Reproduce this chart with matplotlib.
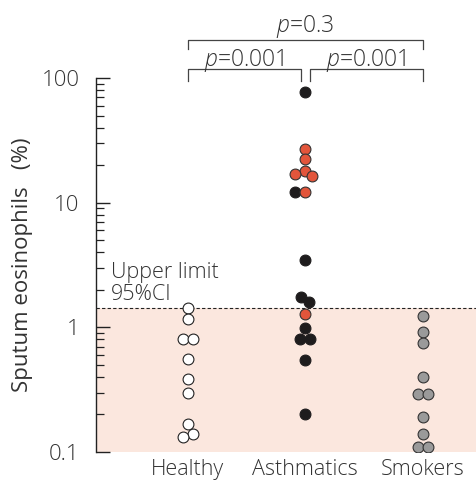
import numpy as np
import matplotlib.pyplot as plt
from matplotlib.ticker import LogLocator, NullFormatter, FixedLocator

plt.rcParams['font.family'] = ['Open Sans', 'DejaVu Sans']
plt.rcParams['font.weight'] = 'light'
plt.rcParams['mathtext.fontset'] = 'custom'
plt.rcParams['mathtext.it'] = 'Open Sans:italic:light'
plt.rcParams['mathtext.rm'] = 'Open Sans:light'

groups = ['Healthy', 'Asthmatics', 'Smokers']

# sputum eosinophils (%) per subject, with horizontal jitter within a group
healthy_vals = [1.44, 1.17, 0.81, 0.81, 0.555, 0.384, 0.296, 0.168, 0.140, 0.131]
healthy_jit = [0, 0, -0.042, 0.042, 0, 0, 0, 0, 0.042, -0.042]

asth_black_vals = [76.8, 12.2, 3.47, 1.76, 1.59, 0.995, 0.81, 0.81, 0.544, 0.201]
asth_black_jit = [0, -0.09, 0, -0.034, 0.03, 0, -0.048, 0.036, 0, 0]
asth_red_vals = [26.8, 22.3, 18.1, 17.1, 16.3, 12.2, 1.28]
asth_red_jit = [0, 0, 0, -0.084, 0.059, 0, 0]

smoker_vals = [1.24, 0.925, 0.755, 0.398, 0.292, 0.292, 0.190, 0.139, 0.109, 0.109]
smoker_jit = [0, 0, 0, 0, -0.042, 0.042, 0, 0, -0.042, 0.042]

upper_limit = 1.44
comparisons = [(1, 2, '=0.001'), (2, 3, '=0.001'), (1, 3, '=0.3')]

fig = plt.figure(figsize=(4.77, 4.82), dpi=100)
ax = fig.add_axes([0.2013, 0.0622, 0.7987, 0.776])

ax.set_yscale('log')
ax.set_ylim(0.1, 100)
ax.set_xlim(0.221, 3.459)

# normal range shading and 95%CI upper limit
ax.axhspan(0.1, upper_limit, color='#fbe7de', zorder=0, lw=0)
ax.axhline(upper_limit, color='#222222', lw=0.8, ls=(0, (3, 2)), zorder=1)
ax.text(0.35, 2.25, 'Upper limit\n95%CI', fontsize=15.5, color='#333333',
        va='center', ha='left', linespacing=1.05)

mk = dict(marker='o', ms=7.8, mew=0.8, ls='none', zorder=3)
ax.plot(1 + np.array(healthy_jit), healthy_vals, mfc='white', mec='#222222', **mk)
ax.plot(2 + np.array(asth_black_jit), asth_black_vals, mfc='#1e1c1d', mec='#1e1c1d', **mk)
ax.plot(2 + np.array(asth_red_jit), asth_red_vals, mfc='#e2553b', mec='#333333', **mk)
ax.plot(3 + np.array(smoker_jit), smoker_vals, mfc='#9a9a9a', mec='#333333', **mk)

# axis styling
for s in ['top', 'right', 'bottom']:
    ax.spines[s].set_visible(False)
ax.spines['left'].set_linewidth(1.0)
ax.spines['left'].set_color('#222222')
ax.yaxis.set_major_locator(FixedLocator([0.1, 1, 10, 100]))
ax.set_yticklabels(['0.1', '1', '10', '100'])
ax.yaxis.set_minor_locator(LogLocator(base=10, subs=np.arange(2, 10)))
ax.yaxis.set_minor_formatter(NullFormatter())
ax.tick_params(axis='y', which='major', direction='in', length=10, width=1.0,
               labelsize=16, colors='#222222', labelcolor='#333333', pad=12)
ax.tick_params(axis='y', which='minor', direction='in', length=6, width=0.9,
               colors='#222222')
ax.set_xticks([1, 2, 3])
ax.set_xticklabels(groups)
ax.tick_params(axis='x', length=0, labelsize=15.5, labelcolor='#333333', pad=5)
ax.set_ylabel('Sputum eosinophils   (%)', fontsize=16, color='#333333', labelpad=6)

# significance brackets (y in axes fraction)
bracket_y = {(1, 2): (0.992, 1.024), (2, 3): (0.992, 1.024), (1, 3): (1.077, 1.102)}
text_y = {(1, 2): 1.047, (2, 3): 1.047, (1, 3): 1.138}
trans = ax.get_xaxis_transform()
for a, b, lab in comparisons:
    y0, y1 = bracket_y[(a, b)]
    xa = a + (0.04 if a == 2 else 0)
    xb = b - (0.04 if (a, b) == (1, 2) else 0)
    ax.plot([xa, xa, xb, xb], [y0, y1, y1, y0], color='#444444', lw=0.9,
            transform=trans, clip_on=False)
    ax.text((xa + xb) / 2, text_y[(a, b)], r'$\it{p}$' + lab, transform=trans,
            ha='center', va='center', fontsize=16.5, color='#333333')

fig.savefig('out.png', dpi=100)
